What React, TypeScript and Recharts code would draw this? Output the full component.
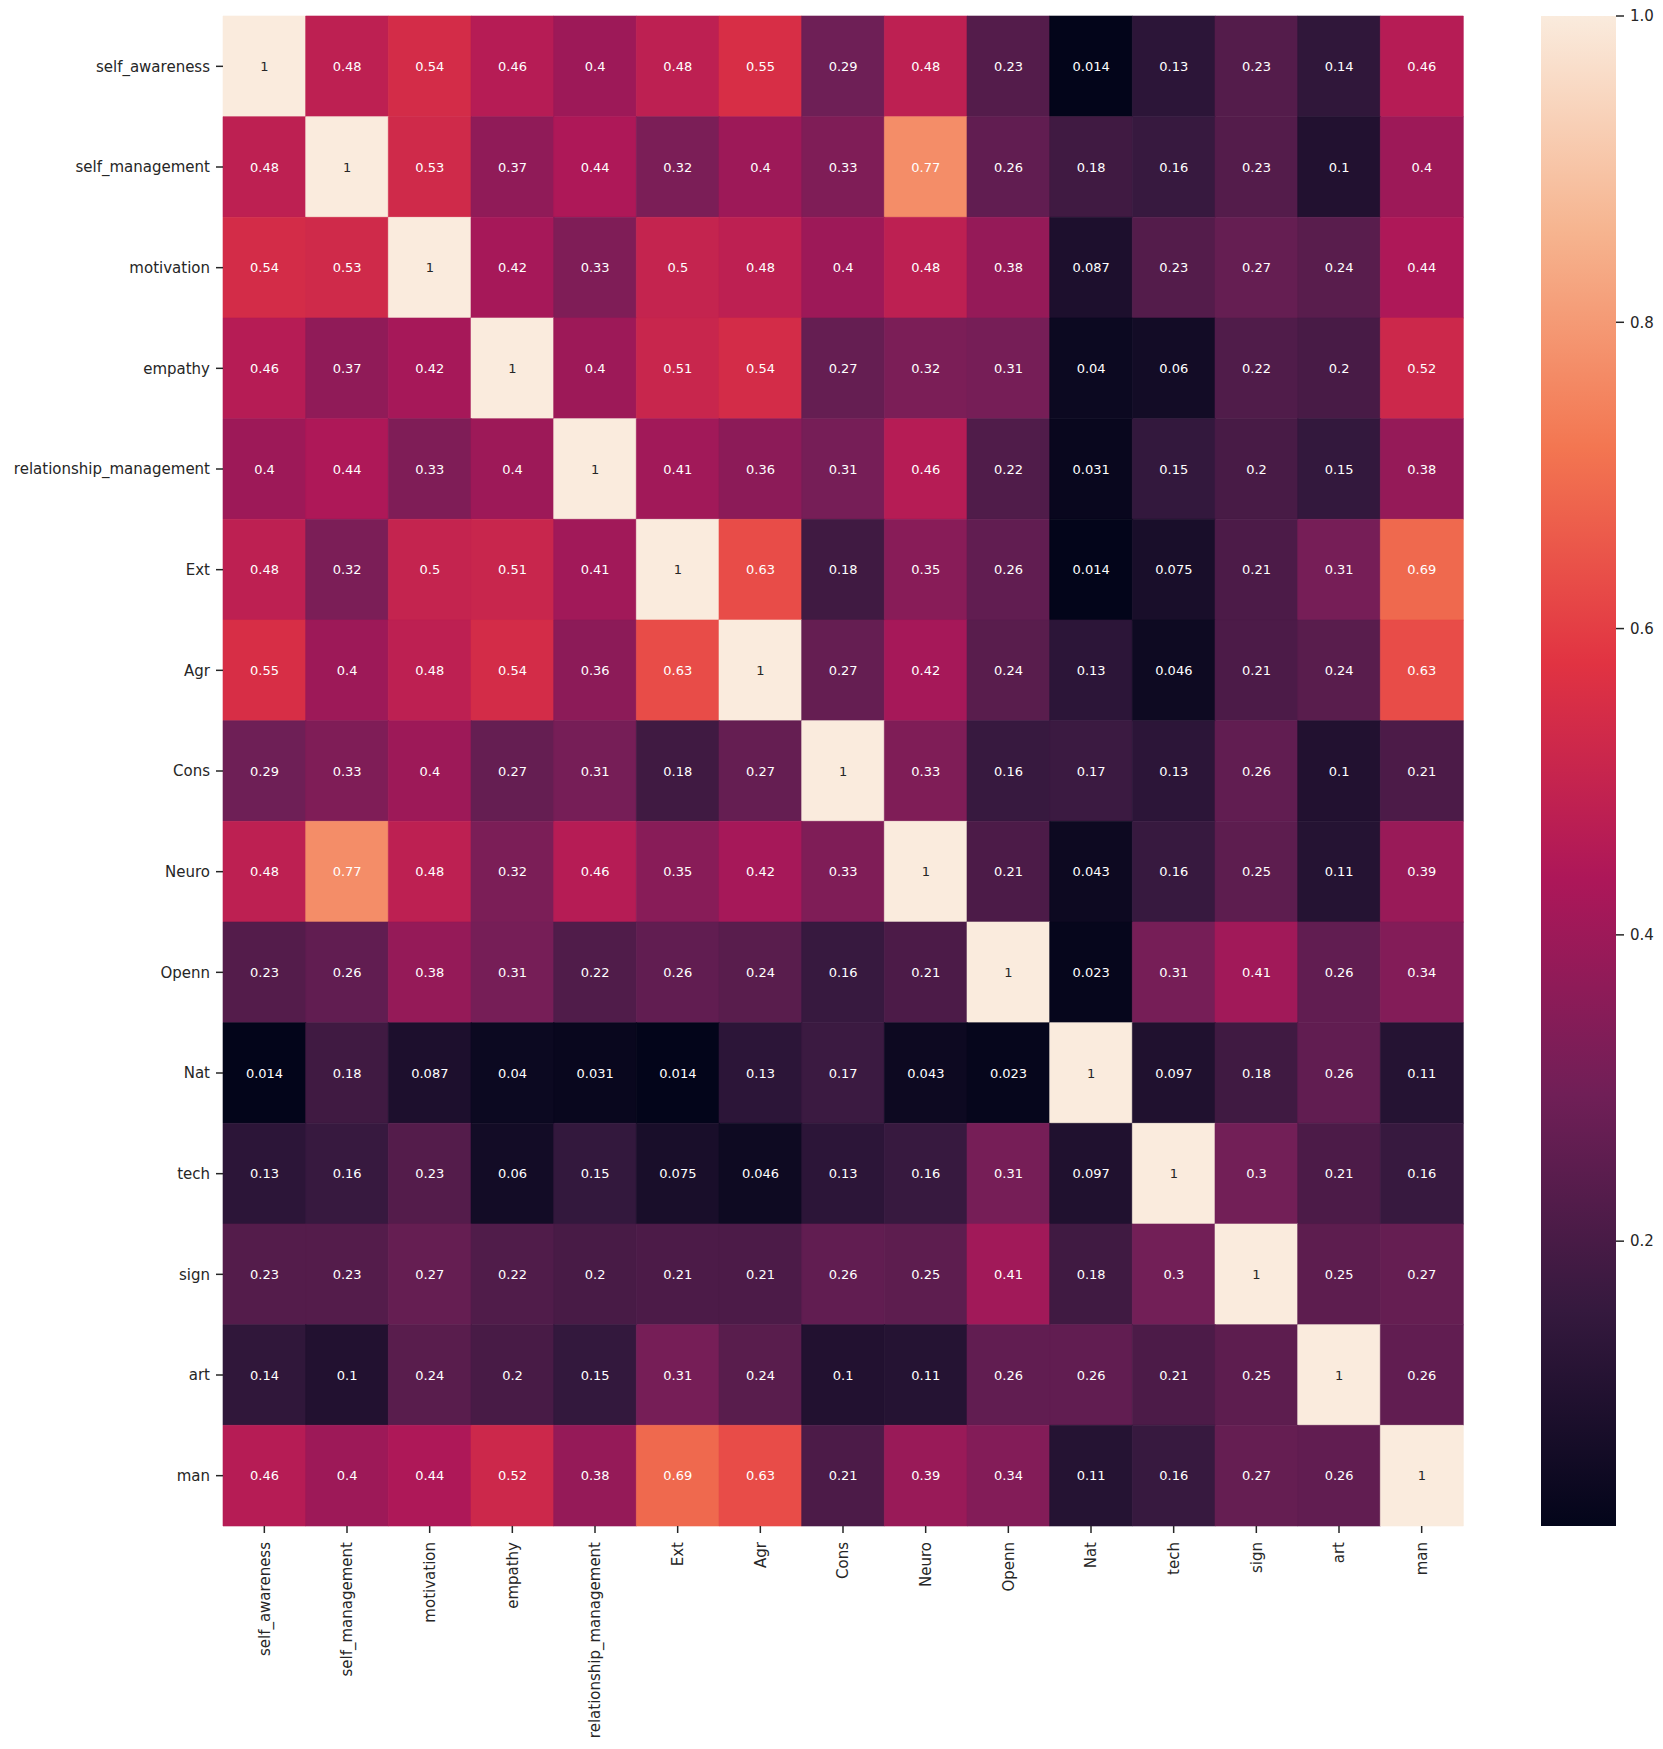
import React from 'react'
import { BarChart, Bar, XAxis, YAxis, Cell, LabelList } from 'recharts'

const LABELS = [
  'self_awareness', 'self_management', 'motivation', 'empathy', 'relationship_management',
  'Ext', 'Agr', 'Cons', 'Neuro', 'Openn', 'Nat', 'tech', 'sign', 'art', 'man',
]

// correlation rows, same order as LABELS
const selfAwareness = [1, 0.48, 0.54, 0.46, 0.4, 0.48, 0.55, 0.29, 0.48, 0.23, 0.014, 0.13, 0.23, 0.14, 0.46]
const selfManagement = [0.48, 1, 0.53, 0.37, 0.44, 0.32, 0.4, 0.33, 0.77, 0.26, 0.18, 0.16, 0.23, 0.1, 0.4]
const motivation = [0.54, 0.53, 1, 0.42, 0.33, 0.5, 0.48, 0.4, 0.48, 0.38, 0.087, 0.23, 0.27, 0.24, 0.44]
const empathy = [0.46, 0.37, 0.42, 1, 0.4, 0.51, 0.54, 0.27, 0.32, 0.31, 0.04, 0.06, 0.22, 0.2, 0.52]
const relationship = [0.4, 0.44, 0.33, 0.4, 1, 0.41, 0.36, 0.31, 0.46, 0.22, 0.031, 0.15, 0.2, 0.15, 0.38]
const ext = [0.48, 0.32, 0.5, 0.51, 0.41, 1, 0.63, 0.18, 0.35, 0.26, 0.014, 0.075, 0.21, 0.31, 0.69]
const agr = [0.55, 0.4, 0.48, 0.54, 0.36, 0.63, 1, 0.27, 0.42, 0.24, 0.13, 0.046, 0.21, 0.24, 0.63]
const cons = [0.29, 0.33, 0.4, 0.27, 0.31, 0.18, 0.27, 1, 0.33, 0.16, 0.17, 0.13, 0.26, 0.1, 0.21]
const neuro = [0.48, 0.77, 0.48, 0.32, 0.46, 0.35, 0.42, 0.33, 1, 0.21, 0.043, 0.16, 0.25, 0.11, 0.39]
const openn = [0.23, 0.26, 0.38, 0.31, 0.22, 0.26, 0.24, 0.16, 0.21, 1, 0.023, 0.31, 0.41, 0.26, 0.34]
const nat = [0.014, 0.18, 0.087, 0.04, 0.031, 0.014, 0.13, 0.17, 0.043, 0.023, 1, 0.097, 0.18, 0.26, 0.11]
const tech = [0.13, 0.16, 0.23, 0.06, 0.15, 0.075, 0.046, 0.13, 0.16, 0.31, 0.097, 1, 0.3, 0.21, 0.16]
const sign = [0.23, 0.23, 0.27, 0.22, 0.2, 0.21, 0.21, 0.26, 0.25, 0.41, 0.18, 0.3, 1, 0.25, 0.27]
const art = [0.14, 0.1, 0.24, 0.2, 0.15, 0.31, 0.24, 0.1, 0.11, 0.26, 0.26, 0.21, 0.25, 1, 0.26]
const man = [0.46, 0.4, 0.44, 0.52, 0.38, 0.69, 0.63, 0.21, 0.39, 0.34, 0.11, 0.16, 0.27, 0.26, 1]

const CORR = [selfAwareness, selfManagement, motivation, empathy, relationship, ext, agr, cons, neuro, openn, nat, tech, sign, art, man]

const VMIN = 0.014
const VMAX = 1
const CBAR_TICKS = [0.2, 0.4, 0.6, 0.8, 1.0]

// rocket colormap, sampled
const ROCKET: [number, string][] = [
  [0, '#03051a'], [1 / 7, '#35193e'], [2 / 7, '#701f57'], [3 / 7, '#ad1759'],
  [4 / 7, '#e13342'], [5 / 7, '#f37651'], [6 / 7, '#f6b48f'], [1, '#faebdd'],
]

const hexRgb = (h: string) => [1, 3, 5].map(i => parseInt(h.slice(i, i + 2), 16))

function rocketRgb(v: number) {
  const t = Math.min(1, Math.max(0, (v - VMIN) / (VMAX - VMIN)))
  for (let i = 1; i < ROCKET.length; i++) {
    const [t1, c1] = ROCKET[i]
    const [t0, c0] = ROCKET[i - 1]
    if (t <= t1) {
      const f = (t - t0) / (t1 - t0)
      const a = hexRgb(c0), b = hexRgb(c1)
      return a.map((x, k) => Math.round(x + (b[k] - x) * f))
    }
  }
  return hexRgb(ROCKET[ROCKET.length - 1][1])
}

const rgbStr = (c: number[]) => `rgb(${c[0]},${c[1]},${c[2]})`

function textColor(v: number) {
  const lin = rocketRgb(v).map(x => {
    const s = x / 255
    return s <= 0.03928 ? s / 12.92 : Math.pow((s + 0.055) / 1.055, 2.4)
  })
  const l = 0.2126 * lin[0] + 0.7152 * lin[1] + 0.0722 * lin[2]
  return l > 0.408 ? '#262626' : '#ffffff'
}

const fmt = (v: number) => String(Number(v.toPrecision(2)))

// one entry per column; c* are unit stack segments, v* the values
const data = LABELS.map((name, j) => {
  const row: Record<string, any> = { name }
  CORR.forEach((r, i) => {
    row[`c${i}`] = 1
    row[`v${i}`] = r[j]
  })
  return row
})

const FONT = 'DejaVu Sans, sans-serif'

const CellLabel = (props: any) => {
  const { x, y, width, height, value } = props
  return (
    <text x={x + width / 2} y={y + height / 2} dy="0.36em" textAnchor="middle"
      fontSize={13} fontFamily={FONT} fill={textColor(value)}>
      {fmt(value)}
    </text>
  )
}

const XTick = (props: any) => {
  const { x, y, payload } = props
  return (
    <g transform={`translate(${x},${y})`}>
      <text transform="rotate(-90)" textAnchor="end" dy="0.36em" fontSize={15} fontFamily={FONT} fill="#262626">
        {payload.value}
      </text>
    </g>
  )
}

export default function App() {
  const rowTicks = LABELS.map((_, i) => i + 0.5)
  return (
    <div style={{ position: 'absolute', left: 0, top: 0, width: 1663, height: 1749, background: '#fff' }}>
      <div style={{ position: 'absolute', left: 0, top: 0 }}>
        <BarChart width={1663} height={1749} data={data} barCategoryGap={0} barGap={0}
          margin={{ top: 16, right: 200, bottom: 23, left: 8 }}>
          <XAxis dataKey="name" interval={0} height={200} tickSize={7} tickMargin={9}
            axisLine={false} tickLine={{ stroke: '#262626', strokeWidth: 1.5 }} tick={<XTick />} />
          <YAxis type="number" domain={[0, 15]} reversed ticks={rowTicks} interval={0} width={215}
            tickSize={7} tickMargin={6} axisLine={false}
            tickLine={{ stroke: '#262626', strokeWidth: 1.5 }}
            tick={{ fontSize: 15, fontFamily: FONT, fill: '#262626' }}
            tickFormatter={(v: number) => LABELS[Math.floor(v)]} />
          {CORR.map((r, i) => (
            <Bar key={i} dataKey={`c${i}`} stackId="a" isAnimationActive={false}>
              {r.map((v, j) => {
                const c = rgbStr(rocketRgb(v))
                return <Cell key={j} fill={c} stroke={c} strokeWidth={0.6} />
              })}
              <LabelList dataKey={`v${i}`} content={<CellLabel />} />
            </Bar>
          ))}
        </BarChart>
      </div>
      <div style={{ position: 'absolute', left: 0, top: 0 }}>
        <BarChart width={1663} height={1749} data={[{ name: 'cb', range: [VMIN, VMAX] }]} barCategoryGap={0}
          margin={{ top: 16, right: 7, bottom: 223, left: 1541 }}>
          <defs>
            <linearGradient id="rocket" x1="0" y1="1" x2="0" y2="0">
              {ROCKET.map(([t, c]) => <stop key={t} offset={t} stopColor={c} />)}
            </linearGradient>
          </defs>
          <XAxis dataKey="name" hide />
          <YAxis orientation="right" type="number" domain={[VMIN, VMAX]} ticks={CBAR_TICKS} width={40}
            tickSize={8} tickMargin={6} axisLine={false} allowDataOverflow
            tickLine={{ stroke: '#262626', strokeWidth: 1.5 }}
            tick={{ fontSize: 15, fontFamily: FONT, fill: '#262626' }}
            tickFormatter={(v: number) => v.toFixed(1)} />
          <Bar dataKey="range" fill="url(#rocket)" isAnimationActive={false} />
        </BarChart>
      </div>
    </div>
  )
}
